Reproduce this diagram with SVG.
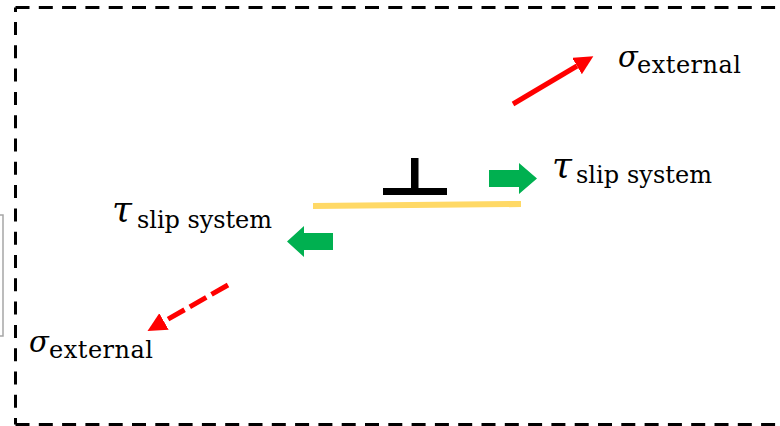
<svg xmlns="http://www.w3.org/2000/svg" width="780" height="426" viewBox="0 0 780 426">
  <style>
    .frame { stroke: #000; stroke-width: 3; stroke-dasharray: 14 9.3; fill: none; }
    .stress { stroke: #ff0000; stroke-width: 5; fill: none; }
    .shear { fill: #00b050; }
    .sym { font-family: "DejaVu Serif", "Liberation Serif", serif; font-style: italic; font-size: 29px; fill: #000; }
    .tau { font-size: 36px; }
    .sub { font-family: "DejaVu Serif", "Liberation Serif", serif; font-style: normal; font-size: 24px; fill: #000; }
  </style>
  <defs>
    <marker id="redHead" markerUnits="userSpaceOnUse" markerWidth="22" markerHeight="22" refX="0" refY="9.5" orient="auto">
      <path d="M0,0 L19,9.5 L0,19 Z" fill="#ff0000"/>
    </marker>
  </defs>

  <rect width="780" height="426" fill="#fff"/>

  <!-- dashed frame (right side runs off the canvas) -->
  <g id="frame">
    <line class="frame" x1="15.5" y1="7.5" x2="800" y2="7.5"/>
    <line class="frame" x1="15.5" y1="7.5" x2="15.5" y2="12" style="stroke-dasharray:none"/>
    <line class="frame" x1="15.5" y1="22" x2="15.5" y2="424.5" style="stroke-dasharray:13 10.3"/>
    <line class="frame" x1="15.5" y1="424.5" x2="800" y2="424.5"/>
  </g>

  <!-- thin grey bracket at the left edge -->
  <g id="bracket">
    <path d="M0,215 H3 V336 H0" fill="none" stroke="#a6a6a6" stroke-width="1.5"/>
  </g>

  <!-- slip plane and edge dislocation -->
  <g id="slip-plane">
    <line x1="313" y1="206" x2="521" y2="204" stroke="#ffd966" stroke-width="6"/>
  </g>
  <g id="dislocation">
    <rect x="383" y="188" width="64" height="7" fill="#000"/>
    <rect x="411" y="158" width="7.5" height="31" fill="#000"/>
  </g>

  <!-- applied stress and resolved shear arrows -->
  <g id="connectors">
    <line class="stress" x1="513" y1="104" x2="577" y2="66" marker-end="url(#redHead)"/>
    <line class="stress" x1="228" y1="285" x2="164" y2="321.5" stroke-dasharray="19 6" marker-end="url(#redHead)"/>
    <path class="shear" d="M489,170 H519 V163 L537,178.5 L519,194 V187 H489 Z"/>
    <path class="shear" d="M333,233 H304 V226 L287,241.5 L304,257 V250 H333 Z"/>
  </g>

  <!-- labels -->
  <g id="label-sigma-top">
    <text class="sym" x="618" y="67">σ<tspan class="sub" x="637" y="73" textLength="104">external</tspan></text>
  </g>
  <g id="label-tau-right">
    <text class="sym tau" x="552" y="177">τ<tspan class="sub" x="576" y="183" textLength="136">slip system</tspan></text>
  </g>
  <g id="label-tau-left">
    <text class="sym tau" x="112" y="221">τ<tspan class="sub" x="137" y="228" textLength="135">slip system</tspan></text>
  </g>
  <g id="label-sigma-bottom">
    <text class="sym" x="29" y="352">σ<tspan class="sub" x="49" y="358" textLength="104">external</tspan></text>
  </g>
</svg>
